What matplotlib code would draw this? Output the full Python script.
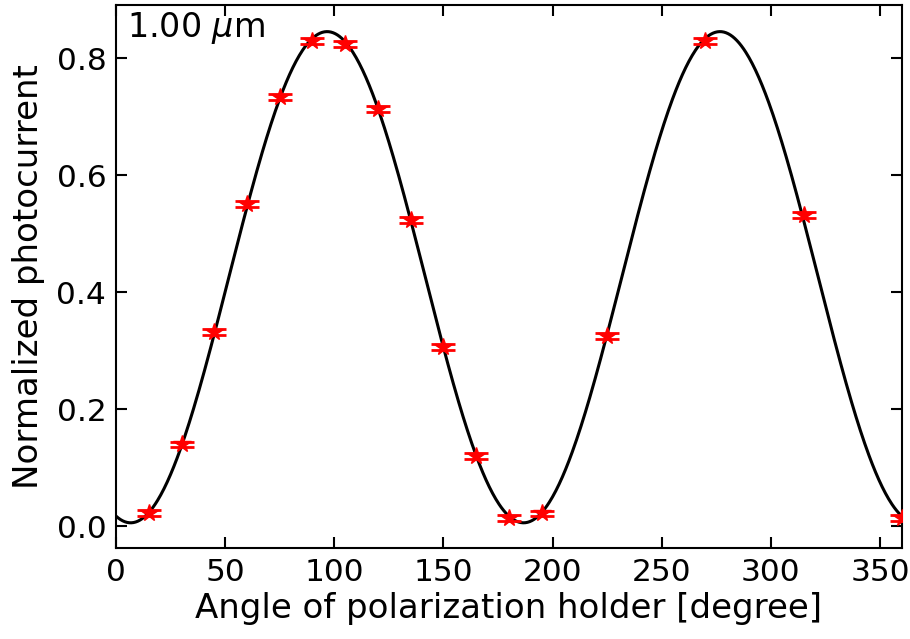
import numpy as np
import matplotlib
matplotlib.use("Agg")
import matplotlib.pyplot as plt

# measured points
angle = [15, 30, 45, 60, 75, 90, 105, 120, 135, 150, 165, 180, 195, 225, 270, 315, 360]
current = [0.023, 0.140, 0.332, 0.551, 0.734, 0.830, 0.824, 0.713, 0.524, 0.307,
           0.120, 0.015, 0.022, 0.325, 0.830, 0.532, 0.014]
current_err = [0.005] * len(angle)

# cos^2 (Malus) fit through the points
a = np.radians(np.array(angle))
A = np.column_stack([np.ones_like(a), np.cos(2 * a), np.sin(2 * a)])
coef, *_ = np.linalg.lstsq(A, np.array(current), rcond=None)
xf = np.linspace(0, 360, 721)
rf = np.radians(xf)
yf = coef[0] + coef[1] * np.cos(2 * rf) + coef[2] * np.sin(2 * rf)

fig = plt.figure(figsize=(9.1, 6.39), dpi=100)
ax = fig.add_axes([0.1275, 0.1424, 0.8635, 0.8498])

ax.plot(xf, yf, color="black", lw=2.2, zorder=2)
ax.errorbar(angle, current, yerr=current_err, fmt="*", color="red",
            ms=13, capsize=8.5, capthick=2, elinewidth=1.5, zorder=3)

ax.set_xlim(0, 360)
ax.set_ylim(-0.037, 0.891)
ax.set_xticks([0, 50, 100, 150, 200, 250, 300, 350])
ax.set_yticks([0.0, 0.2, 0.4, 0.6, 0.8])
ax.tick_params(direction="in", top=True, right=True, length=8, width=1.5,
               labelsize=22.5, pad=7)
for s in ax.spines.values():
    s.set_linewidth(1.5)

ax.set_xlabel("Angle of polarization holder [degree]", fontsize=24.5, labelpad=4)
ax.set_ylabel("Normalized photocurrent", fontsize=24.5, labelpad=8)
ax.text(0.014, 0.99, r"1.00 $\mu$m", transform=ax.transAxes, fontsize=24,
        va="top", ha="left")

fig.savefig("out.png", dpi=100)
